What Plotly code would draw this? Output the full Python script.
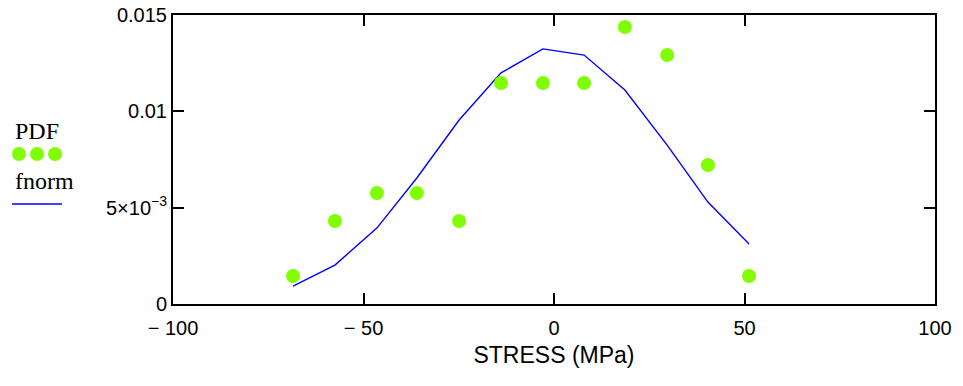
import plotly.graph_objects as go

# Data
stress = [-68.5, -57.5, -46.5, -36.0, -24.9, -13.9, -2.9, 7.9, 18.6, 29.7, 40.4, 51.2]
pdf = [0.00145, 0.00431, 0.00576, 0.00576, 0.00431, 0.01147, 0.01147, 0.01147,
       0.01438, 0.01292, 0.00721, 0.00145]
fnorm = [0.00093, 0.00202, 0.00394, 0.00654, 0.00955, 0.01200, 0.01324, 0.01292,
         0.01111, 0.00825, 0.00529, 0.00311]

x_ticks = [-100, -50, 0, 50, 100]
x_tick_text = ["\u2212 100", "\u2212 50", "0", "50", "100"]
y_ticks = [0, 0.005, 0.01, 0.015]
y_tick_text = ["0", "5\u00d710<sup>\u22123</sup>", "0.01", "0.015"]

GREEN = "#80FF00"
BLUE = "#0000FF"

# target plot-area pixel box (page coords)
PL, PR, PT, PB = 173, 935, 15, 304
PW, PH = PR - PL, PB - PT
BODY = 8  # default page body margin

fig = go.Figure()
fig.add_trace(go.Scatter(x=stress, y=fnorm, mode="lines", name="fnorm",
                         line=dict(color=BLUE, width=1.4)))
fig.add_trace(go.Scatter(x=stress, y=pdf, mode="markers", name="PDF",
                         marker=dict(color=GREEN, size=14, line=dict(width=0))))

axis_common = dict(showgrid=False, zeroline=False, showline=True, linecolor="black",
                   linewidth=2, mirror="ticks", ticks="inside", ticklen=11,
                   tickwidth=2, tickcolor="black", automargin=False,
                   ticklabeloverflow="allow")

fig.update_xaxes(range=[-100, 100], tickvals=x_ticks, ticktext=x_tick_text,
                 tickfont=dict(family="Liberation Sans", size=20, color="black"),
                 ticklabelstandoff=5,
                 title=dict(text="STRESS (MPa)", standoff=9,
                            font=dict(family="Liberation Sans", size=23, color="black")),
                 **axis_common)
fig.update_yaxes(range=[0, 0.015], tickvals=y_ticks, ticktext=y_tick_text,
                 tickfont=dict(family="Liberation Sans", size=20, color="black"),
                 **axis_common)


def px_x(px):
    return (px - PL) / PW


def px_y(py):
    return (PB - py) / PH


# Legend drawn manually (text above symbols, as in the reference)
fig.add_annotation(xref="paper", yref="paper", x=px_x(13), y=px_y(131), text="PDF",
                   showarrow=False, xanchor="left", yanchor="middle",
                   font=dict(family="Liberation Serif", size=24, color="black"))
fig.add_annotation(xref="paper", yref="paper", x=px_x(13), y=px_y(181), text="fnorm",
                   showarrow=False, xanchor="left", yanchor="middle",
                   font=dict(family="Liberation Serif", size=24, color="black"))
for cx in [19, 37, 55]:
    fig.add_shape(type="circle", xref="paper", yref="paper",
                  x0=px_x(cx - 7), x1=px_x(cx + 7),
                  y0=px_y(154 + 7), y1=px_y(154 - 7),
                  fillcolor=GREEN, line=dict(width=0))
fig.add_shape(type="line", xref="paper", yref="paper",
              x0=px_x(12), x1=px_x(62), y0=px_y(204), y1=px_y(204),
              line=dict(color=BLUE, width=1.5))

W, H = 963, 386
fig.update_layout(width=W, height=H, showlegend=False,
                  margin=dict(l=PL - BODY, r=W - PR + BODY, t=PT - BODY,
                              b=H - PB + BODY, autoexpand=False),
                  plot_bgcolor="white", paper_bgcolor="white")

fig.write_html("out.html")
